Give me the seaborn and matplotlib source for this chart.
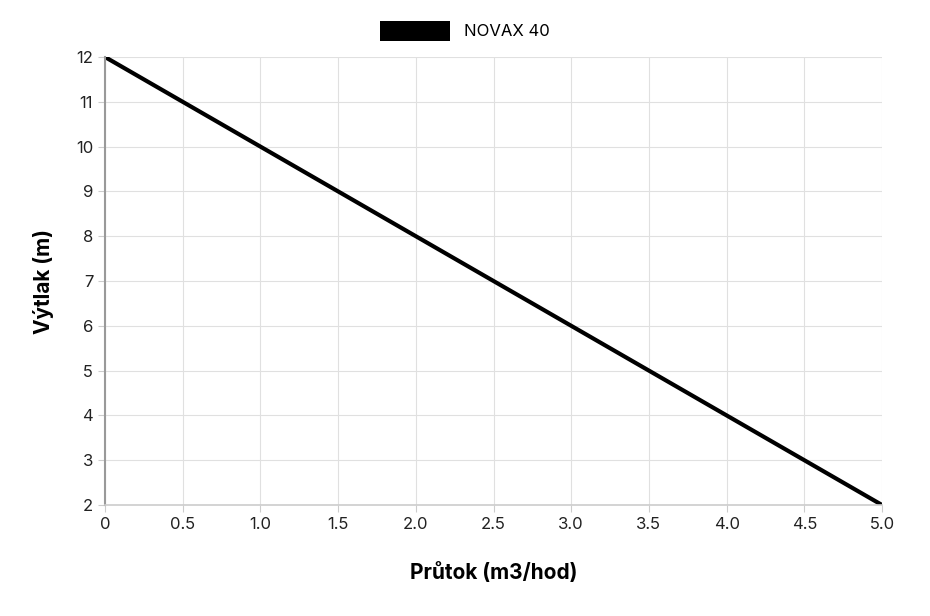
import matplotlib
matplotlib.use("Agg")
import matplotlib.pyplot as plt
import seaborn as sns
import pandas as pd
from matplotlib.patches import Patch

flow = [0, 0.5, 1.0, 1.5, 2.0, 2.5, 3.0, 3.5, 4.0, 4.5, 5.0]
head = [12, 11, 10, 9, 8, 7, 6, 5, 4, 3, 2]
xticklabels = ["0", "0.5", "1.0", "1.5", "2.0", "2.5", "3.0", "3.5", "4.0", "4.5", "5.0"]
series_name = "NOVAX 40"

plt.rcParams["font.family"] = "Inter"
df = pd.DataFrame({"x": flow, "y": head})
fig = plt.figure(figsize=(9.3, 6.16), dpi=100)
ax = fig.add_axes([105/930, 1-505/616, (882-105)/930, (505-57)/616])
sns.lineplot(data=df, x="x", y="y", ax=ax, color="black", linewidth=3)
ax.set_xlim(0, 5)
ax.set_ylim(2, 12)
ax.set_xticks(flow)
ax.set_xticklabels(xticklabels)
ax.set_yticks(range(2, 13))
ax.grid(True, color="#e0e0e0", linewidth=0.8)
for s in ["top", "right"]:
    ax.spines[s].set_visible(False)
ax.spines["left"].set_color("#999999")
ax.spines["left"].set_linewidth(1.5)
ax.spines["bottom"].set_color("#cccccc")
ax.spines["bottom"].set_linewidth(1.2)
ax.tick_params(colors="#222222", labelsize=12, length=5, color="#cccccc")
ax.set_xlabel("Průtok (m3/hod)", fontsize=15, fontweight="bold", labelpad=22)
ax.set_ylabel("Výtlak (m)", fontsize=15, fontweight="bold", labelpad=16)
fig.legend(handles=[Patch(facecolor="black", label=series_name)], loc="center",
           bbox_to_anchor=(0.5, 1-31/616), frameon=False, fontsize=12,
           handlelength=4.2, handleheight=1.5)
fig.savefig("out.png", dpi=100)
